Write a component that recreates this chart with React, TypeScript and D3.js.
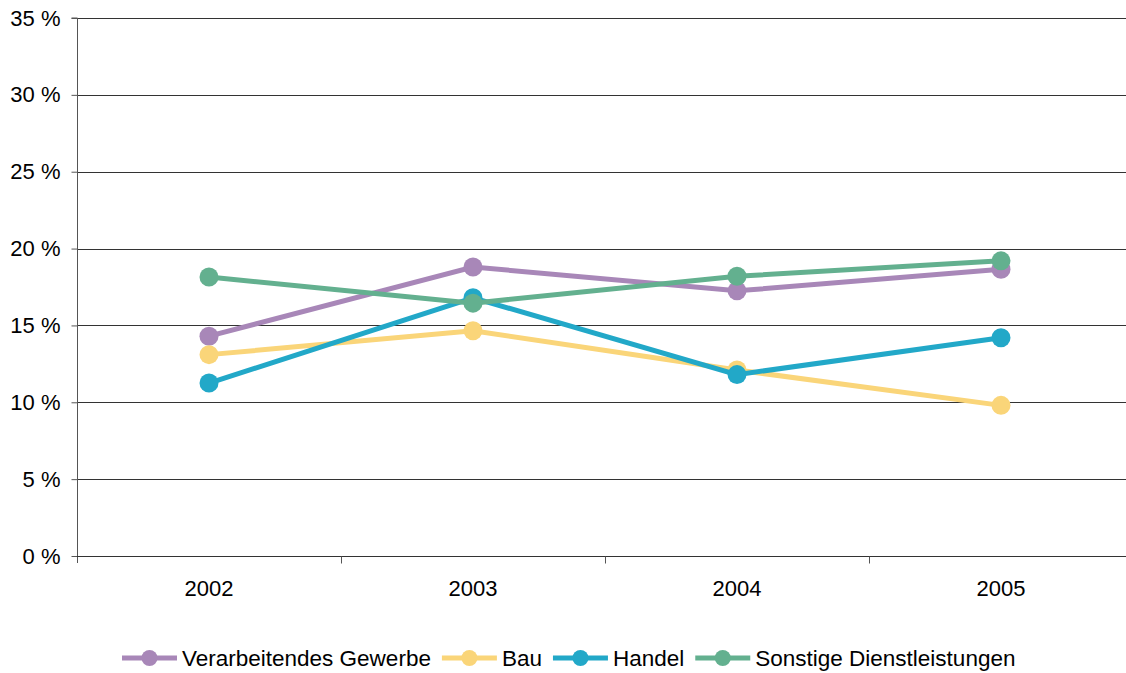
import React, { useEffect, useRef } from 'react';
import * as d3 from 'd3';

const years = ['2002', '2003', '2004', '2005'];
const yTicks = [0, 5, 10, 15, 20, 25, 30, 35];

const verarbeitendes = [14.3, 18.8, 17.25, 18.65];
const bau = [13.1, 14.65, 12.1, 9.8];
const handel = [11.25, 16.8, 11.8, 14.2];
const sonstige = [18.15, 16.45, 18.2, 19.2];

const seriesNames = ['Verarbeitendes Gewerbe', 'Bau', 'Handel', 'Sonstige Dienstleistungen'];
const seriesColors = ['#a887b8', '#fad579', '#22a8c8', '#63b08f'];

const App = () => {
  const ref = useRef<SVGSVGElement>(null);

  useEffect(() => {
    const width = 1126;
    const height = 673;
    const marginLeft = 77;
    const marginTop = 18;
    const plotBottom = 556;
    const plotRight = 1133; // plot area runs a bit past the window

    const svg = d3.select(ref.current);
    svg.selectAll('*').remove();
    svg.attr('width', width).attr('height', height);

    const font = '"Liberation Sans", Arial, sans-serif';
    const fontSize = 22;

    const x = d3.scaleBand().domain(years).range([marginLeft, plotRight]);
    const y = d3.scaleLinear().domain([0, 35]).range([plotBottom, marginTop]);

    // gridlines
    svg.append('g')
      .selectAll('line')
      .data(yTicks.filter(t => t > 0))
      .join('line')
      .attr('x1', marginLeft)
      .attr('x2', plotRight)
      .attr('y1', d => Math.round(y(d)) + 0.5)
      .attr('y2', d => Math.round(y(d)) + 0.5)
      .attr('stroke', '#333')
      .attr('stroke-width', 1);

    // y axis
    const yAxis = svg.append('g')
      .attr('transform', `translate(${marginLeft + 0.5},0)`)
      .call(d3.axisLeft(y).tickValues(yTicks).tickSize(6).tickPadding(10).tickFormat(d => `${d} %`));
    yAxis.attr('font-size', null).attr('font-family', null);
    yAxis.select('.domain').attr('stroke', '#555').attr('d', `M-6,${marginTop}H0V${plotBottom + 7}`);
    yAxis.selectAll('.tick line').attr('stroke', '#555');
    yAxis.selectAll('.tick text')
      .attr('font-family', font)
      .attr('font-size', fontSize)
      .attr('fill', '#000')
      .attr('x', -17);

    // x axis
    const xAxis = svg.append('g').attr('transform', `translate(0,${plotBottom + 0.5})`);
    xAxis.append('line')
      .attr('x1', marginLeft).attr('x2', plotRight)
      .attr('stroke', '#333');
    xAxis.selectAll('line.tk')
      .data(years.slice(1))
      .join('line')
      .attr('class', 'tk')
      .attr('x1', d => Math.round(x(d)!) + 0.5)
      .attr('x2', d => Math.round(x(d)!) + 0.5)
      .attr('y1', 0).attr('y2', 7)
      .attr('stroke', '#555');
    xAxis.selectAll('text')
      .data(years)
      .join('text')
      .attr('x', d => x(d)! + x.bandwidth() / 2)
      .attr('y', 39)
      .attr('text-anchor', 'middle')
      .attr('font-family', font)
      .attr('font-size', fontSize)
      .text(d => d);

    const allSeries = [verarbeitendes, bau, handel, sonstige];
    const cx = (i: number) => x(years[i])! + x.bandwidth() / 2;

    const line = d3.line<number>()
      .x((_, i) => cx(i))
      .y(d => y(d));

    allSeries.forEach((vals, si) => {
      const g = svg.append('g');
      g.append('path')
        .attr('d', line(vals))
        .attr('fill', 'none')
        .attr('stroke', seriesColors[si])
        .attr('stroke-width', 5);
      g.selectAll('circle')
        .data(vals)
        .join('circle')
        .attr('cx', (_, i) => cx(i))
        .attr('cy', d => y(d))
        .attr('r', 9.5)
        .attr('fill', seriesColors[si]);
    });

    // legend
    const legend = svg.append('g').attr('transform', 'translate(122,658)');
    let offset = 0;
    seriesNames.forEach((name, i) => {
      const item = legend.append('g').attr('transform', `translate(${offset},0)`);
      item.append('line')
        .attr('x1', 0).attr('x2', 55)
        .attr('stroke', seriesColors[i])
        .attr('stroke-width', 5);
      item.append('circle')
        .attr('cx', 27.5).attr('r', 8)
        .attr('fill', seriesColors[i]);
      const t = item.append('text')
        .attr('x', 60)
        .attr('y', 7.5)
        .attr('font-family', font)
        .attr('font-size', 22.5)
        .text(name);
      const w = (t.node() as SVGTextElement).getComputedTextLength();
      offset += 60 + w + 11;
    });
  }, []);

  return (
    <svg ref={ref} style={{ position: 'absolute', left: 0, top: 0, background: '#fff' }}></svg>
  );
};

export default App;
